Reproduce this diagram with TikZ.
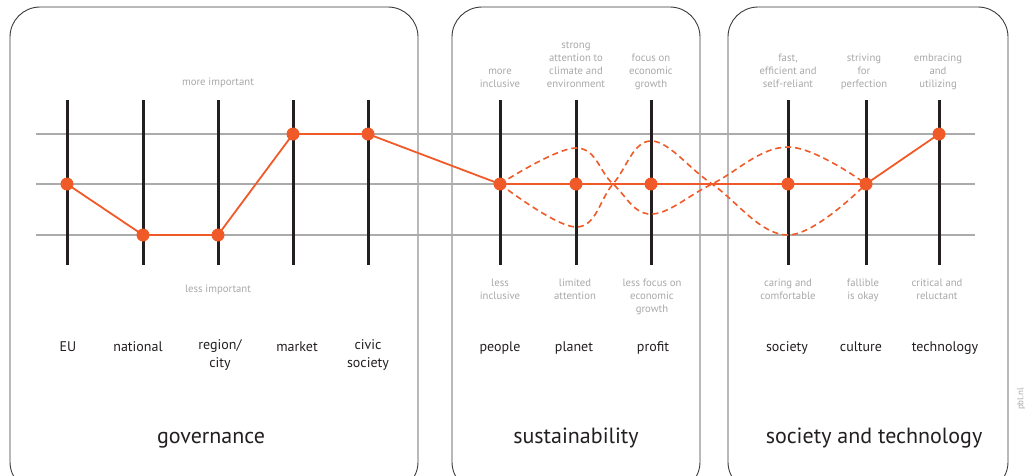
\documentclass[tikz,border=0pt]{standalone}
\usepackage{fontspec}
\setmainfont{PT Sans}
\usepackage{xcolor}
\usepackage{tikz}
\usetikzlibrary{
  positioning,
  calc
}
\definecolor{pblorange}{HTML}{F05A28}
\definecolor{axisgray}{HTML}{ABABAB}
\definecolor{labelgray}{HTML}{A8A8A8}
\definecolor{barblack}{HTML}{231F20}
\definecolor{framegray}{HTML}{3A3A3A}

\begin{document}
\begin{tikzpicture}[
  x=1pt, y=-1pt,
  panel/.style={draw=framegray, line width=0.9pt, rounded corners=30pt},
  axis/.style={axisgray, line width=1.2pt},
  bar/.style={barblack, line width=3pt},
  link/.style={pblorange, line width=1.8pt},
  altlink/.style={pblorange, line width=1.6pt, dash pattern=on 6pt off 4pt},
  dot/.style={circle, fill=pblorange, inner sep=0pt, minimum size=13pt},
  pole/.style={font=\fontsize{10.7}{13}\selectfont, text=labelgray, align=center, inner sep=0pt},
  polehi/.style={pole, anchor=south, text depth=3pt},
  polelo/.style={pole, anchor=north, execute at begin node=\strut},
  cat/.style={font=\fontsize{14}{18}\selectfont, text=barblack, align=center,
    anchor=north, inner sep=0pt, execute at begin node=\strut},
  title/.style={font=\fontsize{22}{26}\selectfont, text=barblack, anchor=base}
]
  \useasboundingbox (0,0) rectangle (1029,475);

  % ── Panels ──
  \draw[panel] (10,7) rectangle (418,492);
  \draw[panel] (452,7) rectangle (700,492);
  \draw[panel] (728,7) rectangle (1008,492);

  % ── Scale lines ──
  \draw[axis] (36,134) -- (975,134);
  \draw[axis] (36,184) -- (975,184);
  \draw[axis] (36,235) -- (975,235);

  % ── Bars ──
  \foreach \xb in {67,143,218,293,368,500,576,651,788,866,939}
    \draw[bar] (\xb,100) -- (\xb,265);

  % ── Scores ──
  \coordinate (eu)  at (67,184);
  \coordinate (nat) at (143,235);
  \coordinate (reg) at (218,235);
  \coordinate (mkt) at (293,134);
  \coordinate (civ) at (368,134);
  \coordinate (ppl) at (500,184);
  \coordinate (pla) at (576,184);
  \coordinate (pro) at (651,184);
  \coordinate (soc) at (788,184);
  \coordinate (cul) at (866,184);
  \coordinate (tec) at (939,134);

  % ── Alternative paths (dashed) ──
  \draw[altlink] plot[smooth, tension=0.65] coordinates
    {(ppl) (576,148) (613,184) (651,214) (712,184) (788,147) (cul)};
  \draw[altlink] plot[smooth, tension=0.65] coordinates
    {(ppl) (576,227) (613,184) (651,141) (712,184) (788,235) (cul)};

  % ── Main profile ──
  \draw[link] (eu) -- (nat) -- (reg) -- (mkt) -- (civ) -- (ppl) -- (pla)
    -- (pro) -- (soc) -- (cul) -- (tec);

  \foreach \d in {eu,nat,reg,mkt,civ,ppl,pla,pro,soc,cul,tec}
    \node[dot] (d-\d) at (\d) {};

  % ── Pole labels: governance ──
  \node[pole, anchor=base] (gov-hi) at (218,85) {more important};
  \node[pole, anchor=base] (gov-lo) at (218,292) {less important};

  % ── Pole labels: sustainability ──
  \node[polehi] (ppl-hi) at (500,91) {more\\inclusive};
  \node[polehi] (pla-hi) at (576,91) {strong\\attention to\\climate and\\environment};
  \node[polehi] (pro-hi) at (651,91) {focus on\\economic\\growth};
  \node[polelo] (ppl-lo) at (500,278.5) {less\\inclusive};
  \node[polelo] (pla-lo) at (575,278.5) {limited\\attention};
  \node[polelo] (pro-lo) at (652,278.5) {less focus on\\economic\\growth};

  % ── Pole labels: society and technology ──
  \node[polehi] (soc-hi) at (788,91) {fast,\\efficient and\\self-reliant};
  \node[polehi] (cul-hi) at (864,91) {striving\\for\\perfection};
  \node[polehi] (tec-hi) at (938,91) {embracing\\and\\utilizing};
  \node[polelo] (soc-lo) at (788,278.5) {caring and\\comfortable};
  \node[polelo] (cul-lo) at (863,278.5) {fallible\\is okay};
  \node[polelo] (tec-lo) at (937,278.5) {critical and\\reluctant};

  % ── Category names ──
  \node[cat] (n-eu)  at (68,339)  {EU};
  \node[cat] (n-nat) at (138,339) {national};
  \node[cat] (n-reg) at (220,339) {region/\\city};
  \node[cat] (n-mkt) at (297,339) {market};
  \node[cat] (n-civ) at (368,339) {civic\\society};
  \node[cat] (n-ppl) at (500,339) {people};
  \node[cat] (n-pla) at (574,339) {planet};
  \node[cat] (n-pro) at (653,339) {profit};
  \node[cat] (n-soc) at (787,339) {society};
  \node[cat] (n-cul) at (861,339) {culture};
  \node[cat] (n-tec) at (945,339) {technology};

  % ── Panel titles ──
  \node[title] (t-gov) at (211,443) {governance};
  \node[title] (t-sus) at (576,443) {sustainability};
  \node[title] (t-st)  at (874,443) {society and technology};

  \node[font=\fontsize{9}{10}\selectfont, text=labelgray, rotate=90] (src) at (1021,399) {pbl.nl};
\end{tikzpicture}
\end{document}
